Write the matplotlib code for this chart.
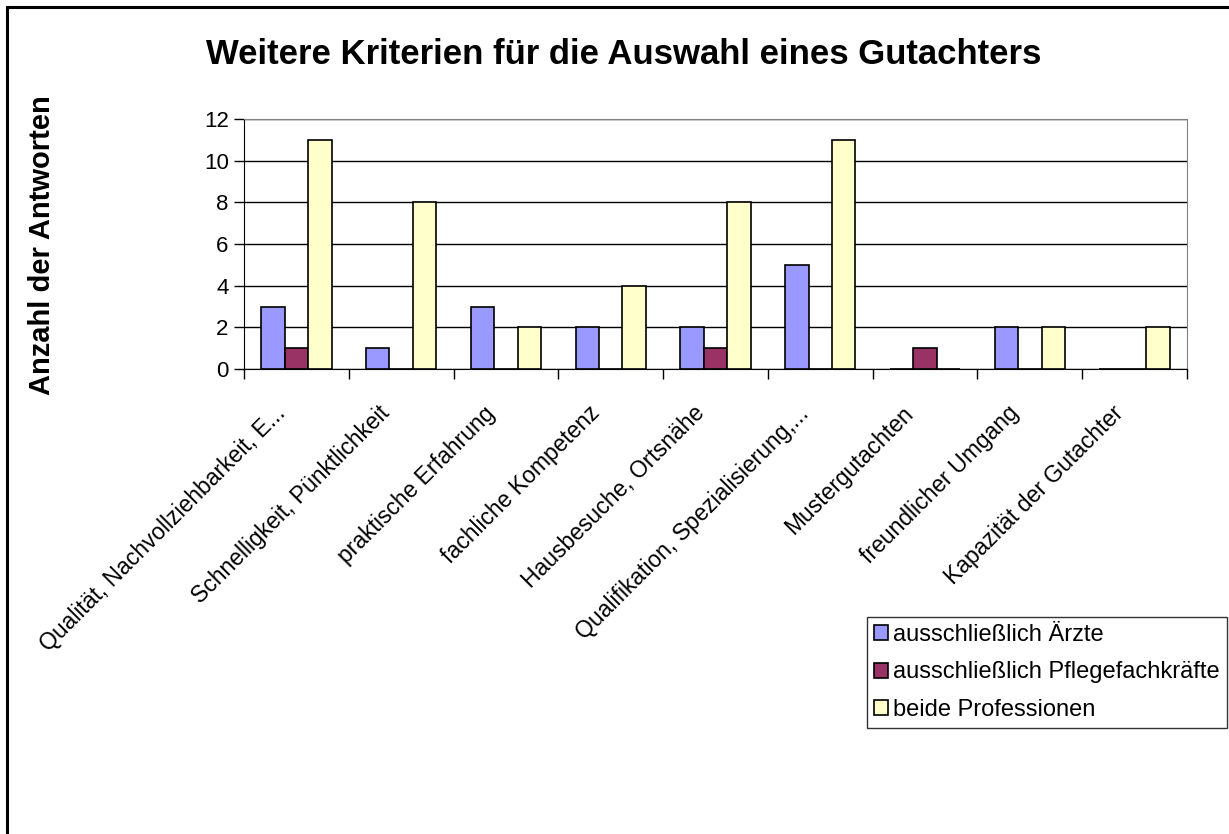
import numpy as np
import matplotlib
matplotlib.use("Agg")
import matplotlib.pyplot as plt
from matplotlib.patches import Rectangle
from matplotlib.transforms import ScaledTranslation

plt.rcParams['font.family'] = ['Liberation Sans', 'DejaVu Sans']

categories = ["Qualität, Nachvollziehbarkeit, E...", "Schnelligkeit, Pünktlichkeit",
              "praktische Erfahrung", "fachliche Kompetenz", "Hausbesuche, Ortsnähe",
              "Qualifikation, Spezialisierung,...", "Mustergutachten",
              "freundlicher Umgang", "Kapazität der Gutachter"]
aerzte = [3, 1, 3, 2, 2, 5, 0, 2, 0]
pflege = [1, 0, 0, 0, 1, 0, 1, 0, 0]
beide = [11, 8, 2, 4, 8, 11, 0, 2, 2]
series_names = ["ausschließlich Ärzte", "ausschließlich Pflegefachkräfte", "beide Professionen"]
colors = ["#9999FF", "#993366", "#FFFFCC"]

fig = plt.figure(figsize=(12.29, 8.34), dpi=100)
ax = fig.add_axes([244/1229, 1-369/834, (1187-244)/1229, (369-119)/834])

x = np.arange(len(categories))
w = 0.224
for i, (vals, name, c) in enumerate(zip([aerzte, pflege, beide], series_names, colors)):
    ax.bar(x + (i-1)*w, vals, width=w, color=c, edgecolor="black", linewidth=1.2,
           label=name, zorder=3)

ax.set_xlim(-0.5, len(categories)-0.5)
ax.set_ylim(0, 12)
ax.set_yticks(range(0, 13, 2))
ax.yaxis.grid(True, color="black", linewidth=1, zorder=0)
ax.tick_params(axis="y", direction="out", length=7, width=1, labelsize=16, pad=4)

ax.set_xticks(x)
ax.set_xticklabels(categories, rotation=45, ha="right", rotation_mode="anchor", fontsize=16.5)
ax.set_xticks(np.arange(-0.5, len(categories)), minor=True)
ax.tick_params(axis="x", which="major", length=0, pad=20)
ax.tick_params(axis="x", which="minor", direction="out", length=7, width=1)
# nudge the rotated labels down-left like the original
shift = ScaledTranslation(-23/100, -5/100, fig.dpi_scale_trans)
for lbl in ax.get_xticklabels():
    lbl.set_transform(lbl.get_transform() + shift)

for s in ["top", "right"]:
    ax.spines[s].set_color("#808080")
for s in ["left", "bottom"]:
    ax.spines[s].set_color("black")

fig.text(624/1229, 1-55/834, "Weitere Kriterien für die Auswahl eines Gutachters",
         ha="center", va="center", fontsize=25, fontweight="bold")
fig.text(42/1229, 1-245/834, "Anzahl der Antworten", rotation=90,
         ha="center", va="center", fontsize=21, fontweight="bold")

leg = fig.legend(loc="upper left", bbox_to_anchor=(867/1229, 1-617/834),
                 fontsize=17, frameon=True, fancybox=False, edgecolor="black",
                 handlelength=0.6, handleheight=0.6, handletextpad=0.2,
                 borderpad=0.3, labelspacing=0.65, borderaxespad=0)
leg.get_frame().set_linewidth(1)

fig.patches.append(Rectangle((7/1229, -0.05), 1.1, 1-7/834+0.05, transform=fig.transFigure,
                             fill=False, edgecolor="black", linewidth=2.2))

fig.savefig("out.png", dpi=100)
